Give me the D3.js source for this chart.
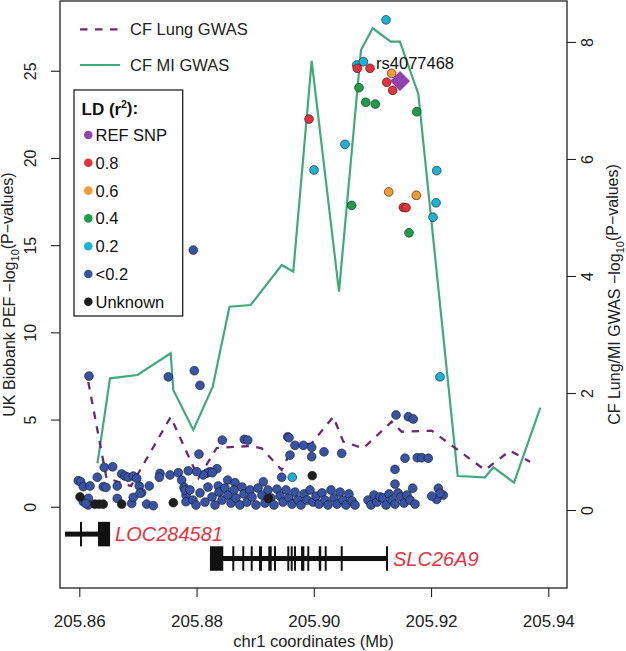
<!DOCTYPE html>
<html><head><meta charset="utf-8">
<script src="https://cdn.jsdelivr.net/npm/d3@7"></script>
<style>
body{margin:0;background:#fff;}
svg{display:block;font-family:"Liberation Sans",Arial,Helvetica,sans-serif;}
</style>
</head><body>
<svg id="chart" width="626" height="651"></svg>
<script>
// ---------------- DATA ----------------
const xTicks = [205.86, 205.88, 205.90, 205.92, 205.94];
const leftTicks = [0, 5, 10, 15, 20, 25];
const rightTicks = [0, 2, 4, 6, 8];
const xDomain = [205.85671, 205.94319];
const leftDomain = [-4.66, 29.0];
const rightDomain = [-1.333, 8.70];

const ldLabels = ["REF SNP", "0.8", "0.6", "0.4", "0.2", "<0.2", "Unknown"];
const ldColors = ["#9142b0", "#e8303a", "#f59a2f", "#1f9e4a", "#1ab2d6", "#3653a6", "#1e1e1e"];

// UK Biobank PEF SNPs: [position Mb, -log10 P]
const snpRef = [[205.91471, 24.41]];
const snpR08 = [[205.89918,22.23],[205.90742,25.14],[205.90959,25.14],[205.91244,24.34],[205.91346,23.88],[205.91527,17.17],[205.91573,17.15]];
const snpR06 = [[205.91329,24.85],[205.91278,18.05],[205.91749,17.86]];
const snpR04 = [[205.90771,24.03],[205.90886,23.19],[205.91050,23.09],[205.91755,22.65],[205.90647,17.28],[205.91624,15.71]];
const snpR02 = [[205.91232,27.92],[205.90732,25.33],[205.90845,25.52],[205.90532,20.78],[205.90004,19.31],[205.92097,19.27],[205.92085,17.43],[205.92033,16.60],[205.92153,7.45],[205.89633,1.69]];
const snpLow = [
 [205.86165,7.49],[205.87518,7.45],[205.86426,2.26],[205.86570,2.29],
 [205.85983,1.49],[205.86024,1.43],[205.86068,1.15],[205.86183,1.19],[205.86307,1.69],[205.86409,1.15],[205.86455,1.11],[205.86648,1.19],[205.86723,1.88],[205.86780,1.76],[205.86836,1.69],[205.86921,1.76],[205.86979,1.63],[205.87023,1.19],[205.87064,0.80],[205.87194,1.19],[205.87377,1.91],[205.87365,1.69],[205.87547,1.82],[205.87689,1.95],[205.87747,1.53],[205.87786,1.11],[205.87820,0.67],[205.87820,0.29],[205.86068,0.29],[205.86154,0.48],[205.86154,0.10],[205.86648,0.48],[205.86894,0.19],[205.86921,0.54],[205.87035,0.77],[205.87150,0.15],[205.87262,0.06],[205.86114,0.18],[205.87803,0.96],
 [205.87962,7.80],[205.88059,6.96],[205.87945,14.72],
 [205.88439,3.82],[205.88815,3.86],[205.88873,3.82],[205.89555,4.01],[205.89577,3.96],[205.89679,3.52],[205.89821,3.52],[205.89964,3.41],[205.89964,2.87],[205.89594,2.96],[205.88042,3.02],[205.89452,1.69],
 [205.88349,2.18],[205.88229,2.01],[205.88173,1.92],[205.88115,1.82],[205.88269,1.95],[205.88003,2.01],[205.87859,2.06],[205.88371,1.19],[205.88531,1.53],[205.88656,1.38],[205.89139,1.43],
 [205.87888,0.96],[205.87939,0.38],[205.87991,0.10],[205.88059,0.79],[205.88144,0.27],[205.88195,1.13],[205.88264,0.56],[205.88315,0.10],[205.88383,0.84],[205.88434,0.38],[205.88485,1.07],[205.88536,0.67],[205.88588,0.21],[205.88639,0.96],[205.88673,0.50],[205.88741,0.10],[205.88775,1.13],[205.88809,0.73],[205.88861,0.27],[205.88912,0.96],[205.88946,0.56],[205.89014,0.10],[205.89048,1.07],[205.89116,0.67],[205.89168,0.21],[205.89219,0.96],[205.89270,0.50],[205.89321,0.10],[205.89372,1.01],[205.89424,0.61],[205.89475,0.27],[205.89526,0.96],[205.89577,0.50],[205.89628,0.15],[205.89679,0.84],[205.89731,0.38],[205.89782,0.10],[205.89833,0.73],[205.89884,0.38],[205.89935,0.96],[205.89986,0.27],[205.90038,0.61],[205.90089,0.15],
 [205.90140,0.79],[205.90191,0.38],[205.90242,0.10],[205.90293,0.96],[205.90345,0.50],[205.90396,0.15],[205.90447,0.84],[205.90498,0.38],[205.90549,0.10],[205.90600,0.73],[205.90652,0.33],[205.90703,0.10],
 [205.90925,0.38],[205.90976,0.10],[205.91027,0.67],[205.91078,0.27],[205.91129,0.56],[205.91180,0.50],[205.91232,0.10],[205.91283,0.73],[205.91334,0.38],[205.91385,0.15],[205.91436,0.79],[205.91487,0.56],[205.91539,0.21],[205.91590,0.67],[205.91641,0.38],
 [205.91402,5.26],[205.91612,5.16],[205.91697,5.03],[205.90174,3.15],[205.90476,3.06],[205.91556,2.78],[205.91765,2.81],[205.91841,2.81],[205.91953,2.78],[205.91385,2.14],[205.91385,1.30],[205.91687,1.06],[205.92124,1.06],[205.92209,0.67],[205.92096,0.42],[205.92153,0.77],[205.92011,0.61],[205.91726,0.15]
];
const snpUnknown = [[205.86012,0.57],[205.86268,0.15],[205.86341,0.15],[205.86409,0.15],[205.86723,0.15],[205.87603,0.23],[205.89224,0.48],[205.89974,1.78]];
const refLabel = "rs4077468";

// CF GWAS lines (right axis): [position Mb, -log10 P]
const cfLung = [[205.86154,2.188],[205.86464,0.547],[205.86882,0.410],[205.87559,1.590],[205.88033,0.547],[205.88344,1.060],[205.88912,1.094],[205.89111,1.055],[205.89453,0.684],[205.89645,1.077],[205.89964,1.140],[205.90333,1.595],[205.90503,1.168],[205.90844,1.055],[205.91329,1.509],[205.91499,1.338],[205.92011,1.356],[205.92920,0.684],[205.93347,1.014],[205.93688,0.826]];
const cfMI = [[205.86310,0.798],[205.86524,2.251],[205.86993,2.308],[205.87559,2.679],[205.87603,2.051],[205.87945,1.368],[205.88276,2.108],[205.88562,3.475],[205.88924,3.504],[205.89453,4.188],[205.89650,4.074],[205.89964,7.675],[205.90430,3.732],[205.90805,7.863],[205.91005,8.234],[205.91312,8.005],[205.91470,8.005],[205.91783,7.111],[205.92455,0.581],[205.92920,0.559],[205.93062,0.730],[205.93415,0.467],[205.93864,1.749]];
const lineNames = ["CF Lung GWAS", "CF MI GWAS"];

// Genes
const geneNames = ["LOC284581", "SLC26A9"];
const geneStarts = [205.85756, 205.88229];
const geneEnds = [205.86525, 205.91266];
const geneRows = [0, 1];
const locExons = [[205.86012,205.86046],[205.86319,205.86525]];
const slcExons = [[205.88229,205.88456],[205.88610,205.88644],[205.88780,205.88814],[205.88924,205.88958],[205.89065,205.89117],[205.89224,205.89282],[205.89321,205.89355],[205.89548,205.89582],[205.89606,205.89640],[205.89662,205.89696],[205.89783,205.89839],[205.89889,205.89923],[205.90085,205.90127],[205.90186,205.90220],[205.90459,205.90493],[205.91232,205.91266]];
const geneExons = [locExons, slcExons];

// ---------------- CHART ----------------
const W = 626, H = 651;
const m = {l: 60, r: 59, t: 1, b: 63};
const svg = d3.select("#chart");
const x = d3.scaleLinear().domain(xDomain).range([m.l, W - m.r]);
const yL = d3.scaleLinear().domain(leftDomain).range([H - m.b, m.t]);
const yR = d3.scaleLinear().domain(rightDomain).range([H - m.b, m.t]);
const axisColor = "#222";

// Axes
const gx = svg.append("g").attr("transform", `translate(0,${H - m.b})`)
  .call(d3.axisBottom(x).tickValues(xTicks).tickFormat(d3.format(".2f")).tickSize(9));
gx.selectAll("text").attr("y", 38.5).attr("dy", 0).style("font-size", "17px").attr("fill", axisColor);

const gl = svg.append("g").attr("transform", `translate(${m.l},0)`)
  .call(d3.axisLeft(yL).tickValues(leftTicks).tickSize(9));
gl.selectAll("text").attr("transform", "rotate(-90)").attr("x", 0).attr("y", -24).attr("dy", 0)
  .attr("text-anchor", "middle").style("font-size", "16px").attr("fill", axisColor);

const gr = svg.append("g").attr("transform", `translate(${W - m.r},0)`)
  .call(d3.axisRight(yR).tickValues(rightTicks).tickSize(9));
gr.selectAll("text").attr("transform", "rotate(-90)").attr("x", 0).attr("y", 26.3).attr("dy", 0)
  .attr("text-anchor", "middle").style("font-size", "16px").attr("fill", axisColor);

[gx, gl, gr].forEach(g => {
  g.select(".domain").remove();
  g.selectAll(".tick line").attr("stroke", axisColor).attr("stroke-width", 1.1);
});

// Box
svg.append("rect").attr("x", m.l).attr("y", m.t).attr("width", W - m.r - m.l).attr("height", H - m.b - m.t)
  .attr("fill", "none").attr("stroke", axisColor).attr("stroke-width", 1.3);

// Axis titles
const midY = (m.t + H - m.b) / 2;
function logTitle(sel, prefix) {
  sel.append("tspan").text(prefix + "\u2212log");
  sel.append("tspan").text("10").style("font-size", "11px").attr("dy", "0.35em");
  sel.append("tspan").text("(P\u2212values)").attr("dy", "-0.35em");
}
const tl = svg.append("text").attr("transform", `translate(15,${midY}) rotate(-90)`)
  .attr("text-anchor", "middle").style("font-size", "16px").attr("fill", axisColor);
logTitle(tl, "UK Biobank PEF ");
const tr = svg.append("text").attr("transform", `translate(620,${midY}) rotate(-90)`)
  .attr("text-anchor", "middle").style("font-size", "16px").attr("fill", axisColor);
logTitle(tr, "CF Lung/MI GWAS ");
svg.append("text").attr("x", (m.l + W - m.r) / 2).attr("y", 647).attr("text-anchor", "middle")
  .style("font-size", "16.5px").attr("fill", axisColor).text("chr1 coordinates (Mb)");

// Lines
const lineGen = d3.line().x(d => x(d[0])).y(d => yR(d[1]));
const lungColor = "#6a2a6e", miColor = "#3fab7d";
svg.append("path").datum(cfMI).attr("d", lineGen).attr("fill", "none")
  .attr("stroke", miColor).attr("stroke-width", 2.2).attr("stroke-linejoin", "miter");
svg.append("path").datum(cfLung).attr("d", lineGen).attr("fill", "none")
  .attr("stroke", lungColor).attr("stroke-width", 2.3).attr("stroke-dasharray", "7.5,7.5");

// Genes
const geneRowY = d3.scaleLinear().domain([0, 1]).range([yL(-1.57), yL(-2.97)]);
const exonH = 24.5, intronW = 5;
const gg = svg.append("g");
geneNames.forEach((name, i) => {
  const cy = geneRowY(geneRows[i]);
  gg.append("rect").attr("x", x(geneStarts[i])).attr("y", cy - intronW / 2)
    .attr("width", x(geneEnds[i]) - x(geneStarts[i])).attr("height", intronW).attr("fill", "#111");
  geneExons[i].forEach(e => {
    gg.append("rect").attr("x", x(e[0])).attr("y", cy - exonH / 2)
      .attr("width", Math.max(1.8, x(e[1]) - x(e[0]))).attr("height", exonH).attr("fill", "#111");
  });
  gg.append("text").attr("x", x(geneEnds[i]) + 5).attr("y", cy).attr("dy", "0.36em")
    .style("font-size", "20px").style("font-style", "italic").attr("fill", "#e8343f").text(name);
});

// Points
const groups = [[snpLow, 5], [snpUnknown, 6], [snpR02, 4], [snpR04, 3], [snpR06, 2], [snpR08, 1]];
groups.forEach(([arr, ci]) => {
  svg.append("g").selectAll("circle").data(arr).join("circle")
    .attr("cx", d => x(d[0])).attr("cy", d => yL(d[1])).attr("r", 4.4)
    .attr("fill", ldColors[ci]).attr("stroke", "#1a1a1a").attr("stroke-opacity", 0.75).attr("stroke-width", 0.8);
});
// Reference SNP diamond
const dH = 10;
svg.append("g").selectAll("path").data(snpRef).join("path")
  .attr("d", d => {
    const cx = x(d[0]), cy = yL(d[1]);
    return `M${cx},${cy - dH}L${cx + dH},${cy}L${cx},${cy + dH}L${cx - dH},${cy}Z`;
  })
  .attr("fill", ldColors[0]);
svg.append("text").attr("x", x(snpRef[0][0]) - 24).attr("y", yL(snpRef[0][1]) - 12)
  .style("font-size", "16.5px").attr("fill", "#111").text(refLabel);

// Line legend
const lleg = svg.append("g");
[[lungColor, "7.5,7.5"], [miColor, null]].forEach((s, i) => {
  const yy = 29.3 + i * 35.7;
  const ln = lleg.append("line").attr("x1", 80).attr("x2", 120).attr("y1", yy).attr("y2", yy)
    .attr("stroke", s[0]).attr("stroke-width", i === 0 ? 2.3 : 2.2);
  if (s[1]) ln.attr("stroke-dasharray", s[1]);
  lleg.append("text").attr("x", 130).attr("y", yy).attr("dy", "0.36em")
    .style("font-size", "16.5px").attr("fill", axisColor).text(lineNames[i]);
});

// LD legend
const lg = svg.append("g");
lg.append("rect").attr("x", 74).attr("y", 90).attr("width", 108.7).attr("height", 226)
  .attr("fill", "#fff").attr("stroke", axisColor).attr("stroke-width", 1.3);
const lt = lg.append("text").attr("x", 81.5).attr("y", 114.5).style("font-size", "17px")
  .style("font-weight", "bold").attr("fill", "#111");
lt.append("tspan").text("LD (r");
lt.append("tspan").text("2").style("font-size", "10px").attr("dy", "-0.7em");
lt.append("tspan").text("):").attr("dy", "0.41em");
ldLabels.forEach((lab, i) => {
  const yy = 135 + i * 27.8;
  lg.append("circle").attr("cx", 88.3).attr("cy", yy).attr("r", 4.3).attr("fill", ldColors[i]);
  lg.append("text").attr("x", 95.5).attr("y", yy).attr("dy", "0.36em")
    .style("font-size", "16.5px").attr("fill", "#111").text(lab);
});
</script>
</body></html>
